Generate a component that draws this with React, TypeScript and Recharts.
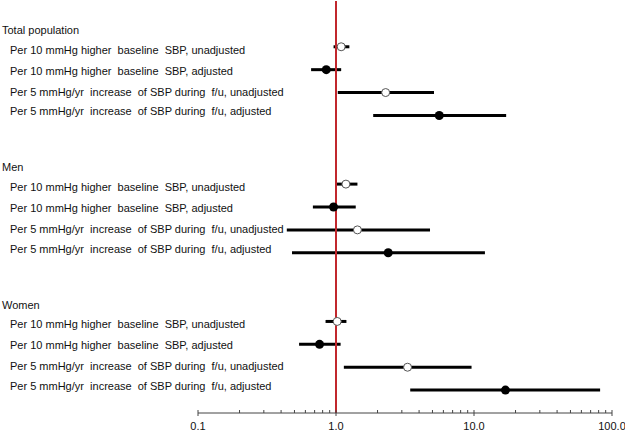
import React from "react";
import {
  ComposedChart,
  Scatter,
  ErrorBar,
  XAxis,
  YAxis,
  ReferenceLine,
} from "recharts";

const groups = ["Total population", "Men", "Women"];
const measures = [
  "Per 10 mmHg higher  baseline  SBP, unadjusted",
  "Per 10 mmHg higher  baseline  SBP, adjusted",
  "Per 5 mmHg/yr  increase  of SBP during  f/u, unadjusted",
  "Per 5 mmHg/yr  increase  of SBP during  f/u, adjusted",
];
const adjusted = [false, true, false, true];

const totalEst = [1.09, 0.85, 2.29, 5.6];
const totalLow = [0.96, 0.66, 1.03, 1.86];
const totalHigh = [1.25, 1.09, 5.13, 17.1];

const menEst = [1.18, 0.96, 1.43, 2.39];
const menLow = [1.0, 0.68, 0.44, 0.48];
const menHigh = [1.43, 1.39, 4.8, 12.0];

const womenEst = [1.02, 0.76, 3.3, 16.9];
const womenLow = [0.84, 0.54, 1.14, 3.45];
const womenHigh = [1.19, 1.08, 9.6, 82];

const majorTicks = [0.1, 1, 10, 100];
const minorSteps = [2, 3, 4, 5, 6, 7, 8, 9];

const groupData = [
  { est: totalEst, low: totalLow, high: totalHigh },
  { est: menEst, low: menLow, high: menHigh },
  { est: womenEst, low: womenLow, high: womenHigh },
];

// row layout: header, 4 measures, blank row
const rowLabels: { row: number; text: string; header: boolean; k: number }[] = [];
const points: { row: number; est: number; err: [number, number]; adj: boolean }[] = [];
groups.forEach((g, gi) => {
  const base = gi * 6;
  rowLabels.push({ row: base, text: g, header: true, k: 0 });
  measures.forEach((m, mi) => {
    const d = groupData[gi];
    rowLabels.push({ row: base + 1 + mi, text: m, header: false, k: mi });
    points.push({
      row: base + 1 + mi,
      est: d.est[mi],
      err: [d.est[mi] - d.low[mi], d.high[mi] - d.est[mi]],
      adj: adjusted[mi],
    });
  });
});

const openPts = points.filter((p) => !p.adj);
const filledPts = points.filter((p) => p.adj);

const xTicks: number[] = [];
majorTicks.forEach((t, i) => {
  xTicks.push(t);
  if (i < majorTicks.length - 1) minorSteps.forEach((s) => xTicks.push(t * s));
});

const FONT = "'Liberation Sans', Arial, sans-serif";

const YTick = (props: any) => {
  const { y, payload } = props;
  const lab = rowLabels.find((r) => r.row === payload.value);
  if (!lab) return null;
  const dy = lab.header ? 6 : [3, 1, -1, -4][lab.k];
  return (
    <text
      x={lab.header ? 2 : 10}
      y={y + dy}
      dy={4}
      textAnchor="start"
      fontSize={11}
      fontFamily={FONT}
      fill="#111"
      style={{ whiteSpace: "pre" }}
    >
      {lab.text}
    </text>
  );
};

const XTick = (props: any) => {
  const { x, y, payload } = props;
  const v = payload.value;
  const major = majorTicks.some((t) => Math.abs(t - v) < 1e-9);
  return (
    <g>
      <line x1={x} x2={x} y1={y - 3} y2={major ? y + 3 : y} stroke="#444" />
      {major && (
        <text
          x={x}
          y={y + 17}
          textAnchor="middle"
          fontSize={11}
          fontFamily={FONT}
          fill="#111"
        >
          {v.toFixed(1)}
        </text>
      )}
    </g>
  );
};

const OpenDot = (props: any) => (
  <circle cx={props.cx} cy={props.cy} r={4} fill="#fff" stroke="#555" strokeWidth={1} />
);
const FilledDot = (props: any) => (
  <circle cx={props.cx} cy={props.cy} r={4.5} fill="#000" />
);

export default function App() {
  return (
    <div style={{ width: 625, height: 431, background: "#fff" }}>
      <style>{`body{margin:0}`}</style>
      <ComposedChart
        width={625}
        height={431}
        margin={{ top: 1, right: 13, bottom: 0, left: 0 }}
        style={{ overflow: "visible" }}
      >
        <XAxis
          type="number"
          dataKey="est"
          scale="log"
          domain={[0.1, 100]}
          ticks={xTicks}
          interval={0}
          allowDataOverflow
          tickSize={0}
          tickMargin={0}
          tick={<XTick />}
          stroke="#444"
          height={18}
        />
        <YAxis
          type="number"
          dataKey="row"
          domain={[-1, 17]}
          reversed
          ticks={rowLabels.map((r) => r.row)}
          interval={0}
          width={198}
          axisLine={false}
          tickLine={false}
          tick={<YTick />}
        />
        <Scatter data={openPts} shape={<OpenDot />} isAnimationActive={false}>
          <ErrorBar dataKey="err" direction="x" width={0} stroke="#000" strokeWidth={3} />
        </Scatter>
        <Scatter data={filledPts} shape={<FilledDot />} isAnimationActive={false}>
          <ErrorBar dataKey="err" direction="x" width={0} stroke="#000" strokeWidth={3} />
        </Scatter>
        <ReferenceLine x={1} stroke="#c1272d" strokeWidth={2} />
      </ComposedChart>
    </div>
  );
}
